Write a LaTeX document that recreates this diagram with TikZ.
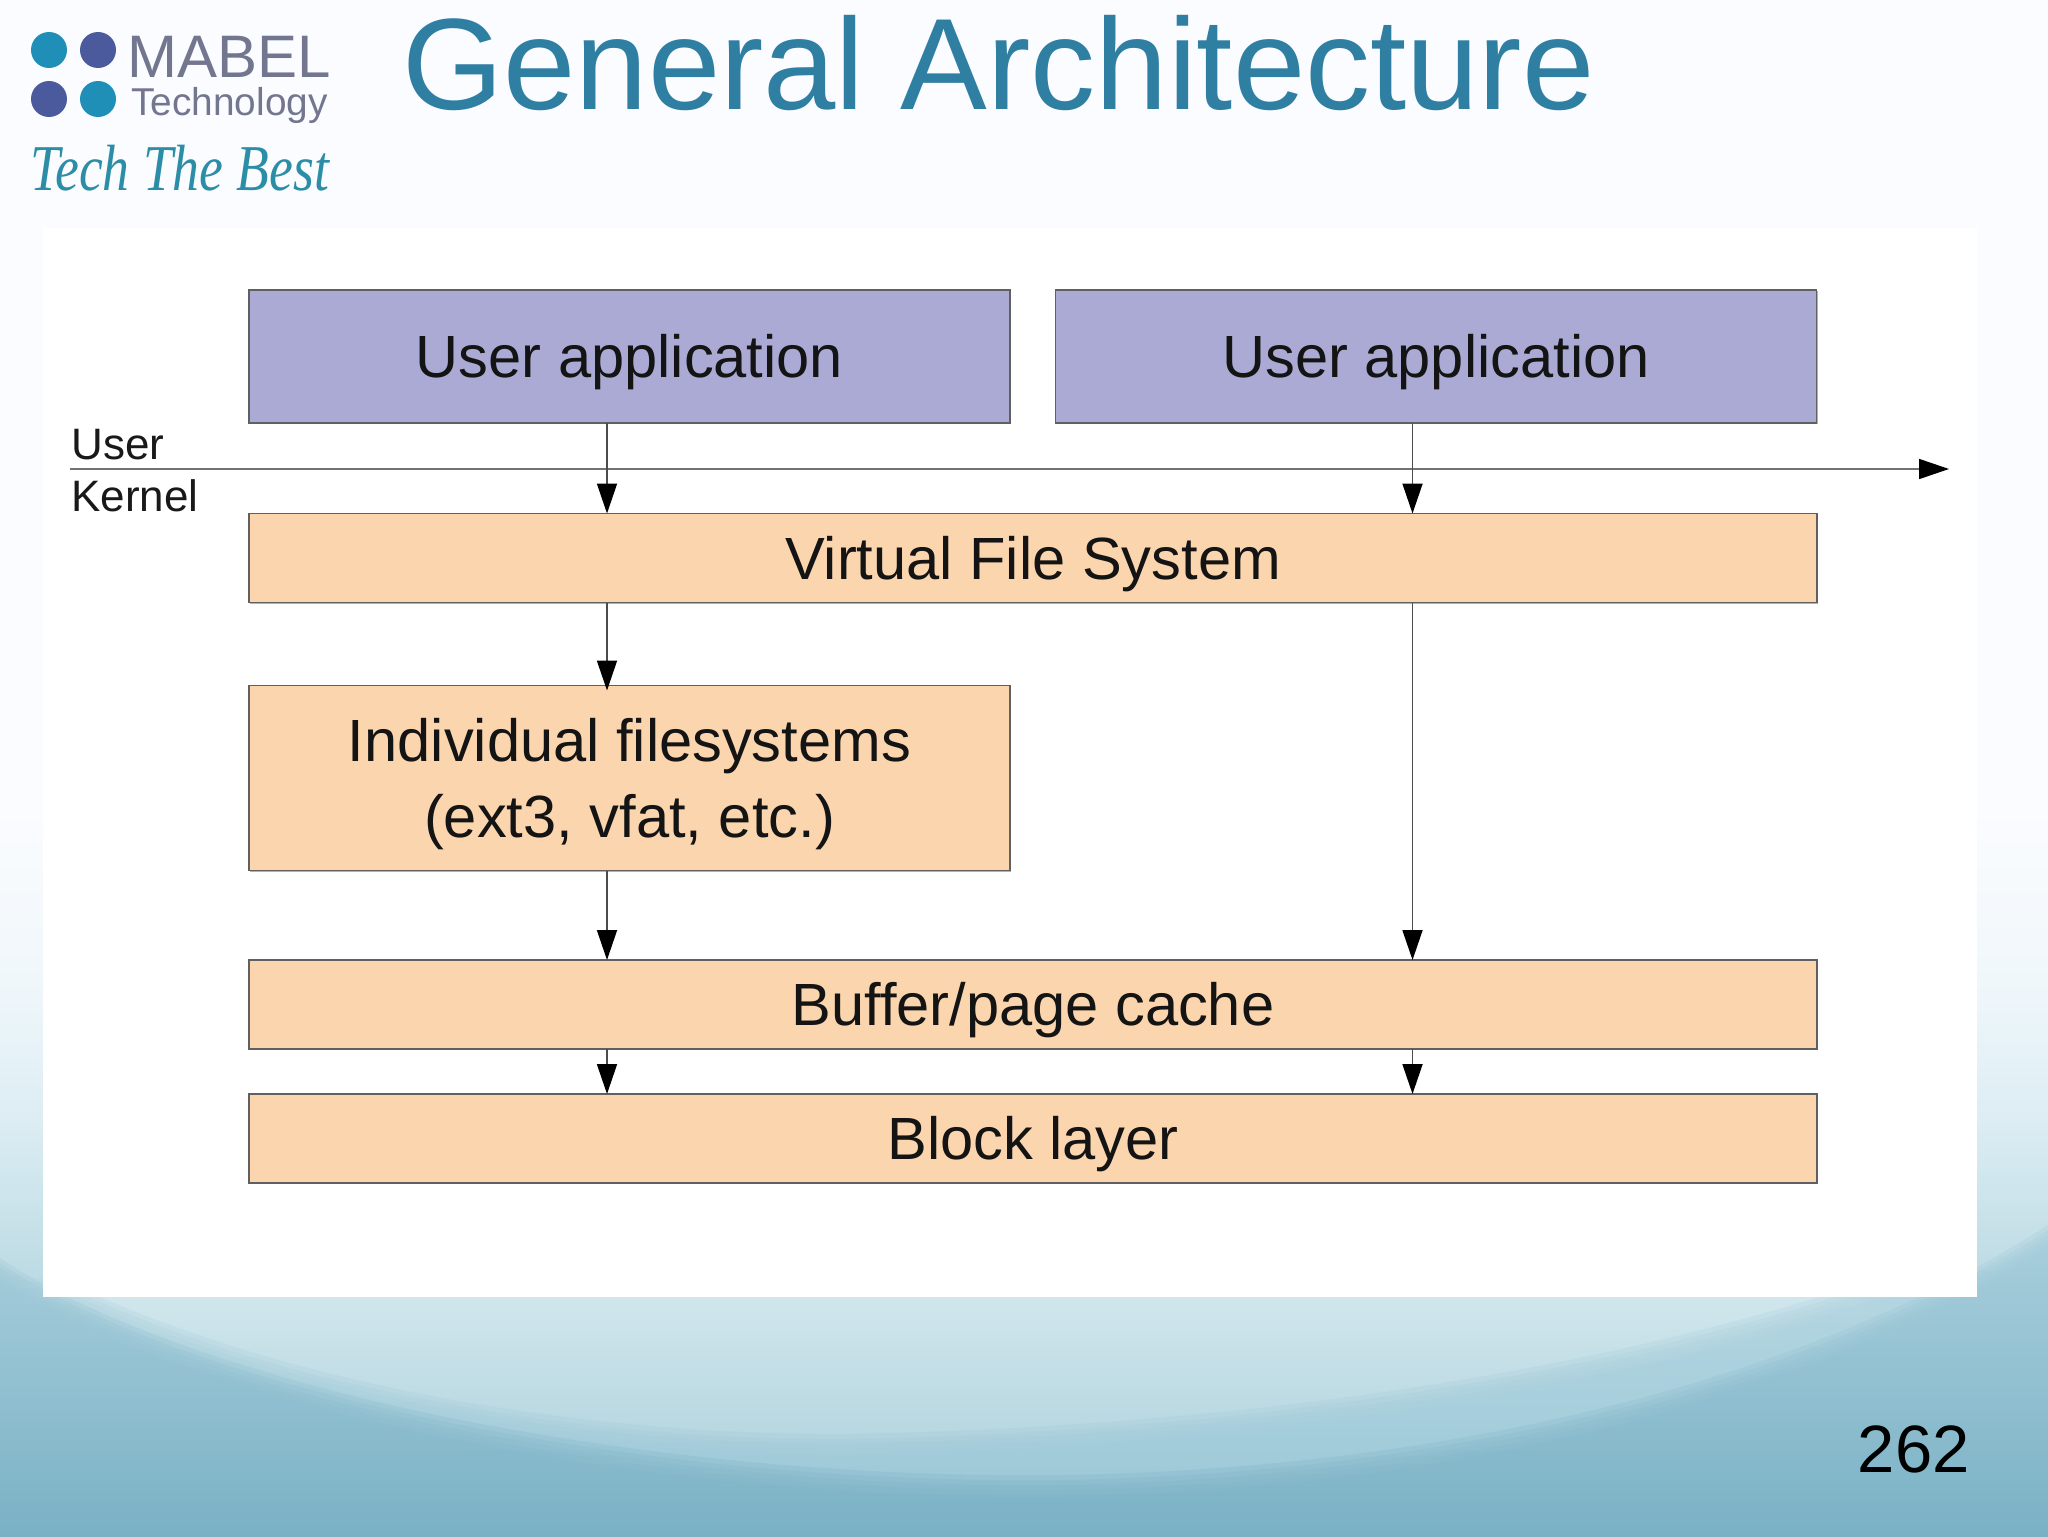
\documentclass[tikz,border=0pt]{standalone}
\usepackage{fontspec}
\setmainfont{Liberation Sans}
\newfontfamily\scriptish{Liberation Serif}
\usetikzlibrary{arrows.meta,shadows}
\definecolor{bgtop}{HTML}{FBFCFF}
\definecolor{bgb}{HTML}{F0F7FB}
\definecolor{bgc}{HTML}{DCEDF3}
\definecolor{bgd}{HTML}{B8D8E2}
\definecolor{lenst}{HTML}{D0E6EC}
\definecolor{lensb}{HTML}{ACD0DC}
\definecolor{midt}{HTML}{B4D6E1}
\definecolor{midb}{HTML}{97C5D5}
\definecolor{darkt}{HTML}{A6CDDB}
\definecolor{darkm}{HTML}{86BACC}
\definecolor{darkb}{HTML}{78B0C4}
\definecolor{userfill}{HTML}{AAAAD4}
\definecolor{kernfill}{HTML}{FBD5AE}
\definecolor{edge}{HTML}{606060}
\definecolor{titleblue}{HTML}{2F7FA3}
\definecolor{dotA}{HTML}{1F8FB8}
\definecolor{dotB}{HTML}{4A5A9C}
\definecolor{logogrey}{HTML}{72768F}
\definecolor{logoteal}{HTML}{2C8EA6}
\newcommand{\lowr}[1]{\raisebox{-3pt}[\height][\depth]{#1}}
\tikzset{
  box/.style={draw=edge,line width=0.75pt,inner sep=0pt,outer sep=0pt,align=center,text=black!92,
    font=\fontsize{29.8}{38}\selectfont,
    general shadow={shadow xshift=0.7pt,shadow yshift=-0.7pt,fill=black!30}},
  ubox/.style={box,fill=userfill},
  kbox/.style={box,fill=kernfill},
  conn/.style={draw=black!70,line width=0.9pt,-{Triangle[length=15pt,width=10pt,fill=black,color=black]}},
  axis/.style={draw=black!55,line width=0.8pt,-{Triangle[length=15pt,width=10pt,fill=black,color=black]}},
  side/.style={inner sep=0pt,anchor=base west,text=black!90,font=\fontsize{22}{26}\selectfont},
  dot/.style={circle,inner sep=0pt,minimum size=18pt}
}
\begin{document}
\begin{tikzpicture}[x=0.5pt,y=-0.5pt]
\useasboundingbox (0,0) rectangle (2048,1536);
% background
\fill[bgtop] (0,0) rectangle (2048,801);
\shade[top color=bgtop,bottom color=bgb] (0,800) rectangle (2048,981);
\shade[top color=bgb,bottom color=bgc] (0,980) rectangle (2048,1121);
\shade[top color=bgc,bottom color=bgd] (0,1120) rectangle (2048,1298);
\shade[top color=lenst,bottom color=lensb] (0,1297) rectangle (2048,1500);
% soft swoops
\foreach \dy in {-10,-5,0,5,10}{
  \shade[yshift=-\dy*0.5pt,opacity=0.3,top color=midt,bottom color=midb]
    (78,1297) .. controls (300,1400) and (600,1446) .. (850,1444)
    .. controls (1250,1436) and (1620,1380) .. (1900,1280) -- (2048,1280) -- (2048,1536) -- (0,1536) -- (0,1280) -- cycle;
}
\shade[yshift=-6pt,top color=midt,bottom color=midb]
    (78,1297) .. controls (300,1400) and (600,1446) .. (850,1444)
    .. controls (1250,1436) and (1620,1380) .. (1900,1280) -- (2048,1280) -- (2048,1536) -- (0,1536) -- (0,1280) -- cycle;
\foreach \dy in {-10,-5,0,5,10}{
  \shade[yshift=-\dy*0.5pt,opacity=0.3,top color=darkt,middle color=darkm,bottom color=darkb]
    (0,1268) .. controls (180,1390) and (620,1490) .. (1060,1485)
    .. controls (1500,1478) and (1840,1370) .. (2048,1235) -- (2048,1536) -- (0,1536) -- cycle;
}
\shade[yshift=-6pt,top color=darkt,middle color=darkm,bottom color=darkb]
    (0,1268) .. controls (180,1390) and (620,1490) .. (1060,1485)
    .. controls (1500,1478) and (1840,1370) .. (2048,1235) -- (2048,1536) -- (0,1536) -- cycle;
% panel
\fill[white] (43,228) rectangle (1977,1297);
% title
\node[inner sep=0pt,anchor=base west,text=titleblue,font=\fontsize{65}{70}\selectfont] (title) at (402,110) {General Architecture};
% logo
\node[dot,fill=dotA] (d1) at (49,50) {};
\node[dot,fill=dotB] (d2) at (98,50) {};
\node[dot,fill=dotB] (d3) at (49,99) {};
\node[dot,fill=dotA] (d4) at (98,99) {};
\node[inner sep=0pt,anchor=base west,text=logogrey,font=\fontsize{30}{32}\selectfont] (mabel) at (127,78) {MABEL};
\node[inner sep=0pt,anchor=base west,text=logogrey,font=\fontsize{19.4}{20}\selectfont] (tech) at (131,116) {Technology};
\node[inner sep=0pt,anchor=base west,text=logoteal,font=\fontsize{26.8}{30}\scriptish\itshape] (motto) at (30,190) {\scalebox{1}[1.22]{Tech The Best}};
% boxes
\node[ubox,minimum width=380.5pt,minimum height=66.5pt] (ua1) at (629.5,356.5) {\lowr{User application}};
\node[ubox,minimum width=380.5pt,minimum height=66.5pt] (ua2) at (1436,356.5) {\lowr{User application}};
\node[kbox,minimum width=784pt,minimum height=44.5pt] (vfs) at (1033,558) {\lowr{Virtual File System}};
\node[kbox,minimum width=380.5pt,minimum height=92.5pt] (ifs) at (629.5,778) {\lowr{Individual filesystems}\\\lowr{(ext3, vfat, etc.)}};
\node[kbox,minimum width=784pt,minimum height=44.5pt] (buf) at (1033,1004.5) {\lowr{Buffer/page cache}};
\node[kbox,minimum width=784pt,minimum height=44.5pt] (blk) at (1033,1138.5) {\lowr{Block layer}};
% guide coordinates
\coordinate (xl) at (607,0);
\coordinate (xr) at (1412.5,0);
\coordinate (axL) at (70,469);
\coordinate (axR) at (1949,469);
% axis
\draw[axis] (axL) -- (axR);
\node[side] (user) at (71,459) {User};
\node[side] (kernel) at (71,511) {Kernel};
% connectors
\draw[conn] (ua1.south -| xl) -- (vfs.north -| xl);
\draw[conn] (ua2.south -| xr) -- (vfs.north -| xr);
\draw[conn,shorten >=-2.5pt] (vfs.south -| xl) -- (ifs.north -| xl);
\draw[conn] (ifs.south -| xl) -- (buf.north -| xl);
\draw[conn] (vfs.south -| xr) -- (buf.north -| xr);
\draw[conn] (buf.south -| xl) -- (blk.north -| xl);
\draw[conn] (buf.south -| xr) -- (blk.north -| xr);
% page number
\node[inner sep=0pt,anchor=base east,text=black,font=\fontsize{33.5}{38}\selectfont] (page) at (1970,1472) {262};
\end{tikzpicture}
\end{document}
